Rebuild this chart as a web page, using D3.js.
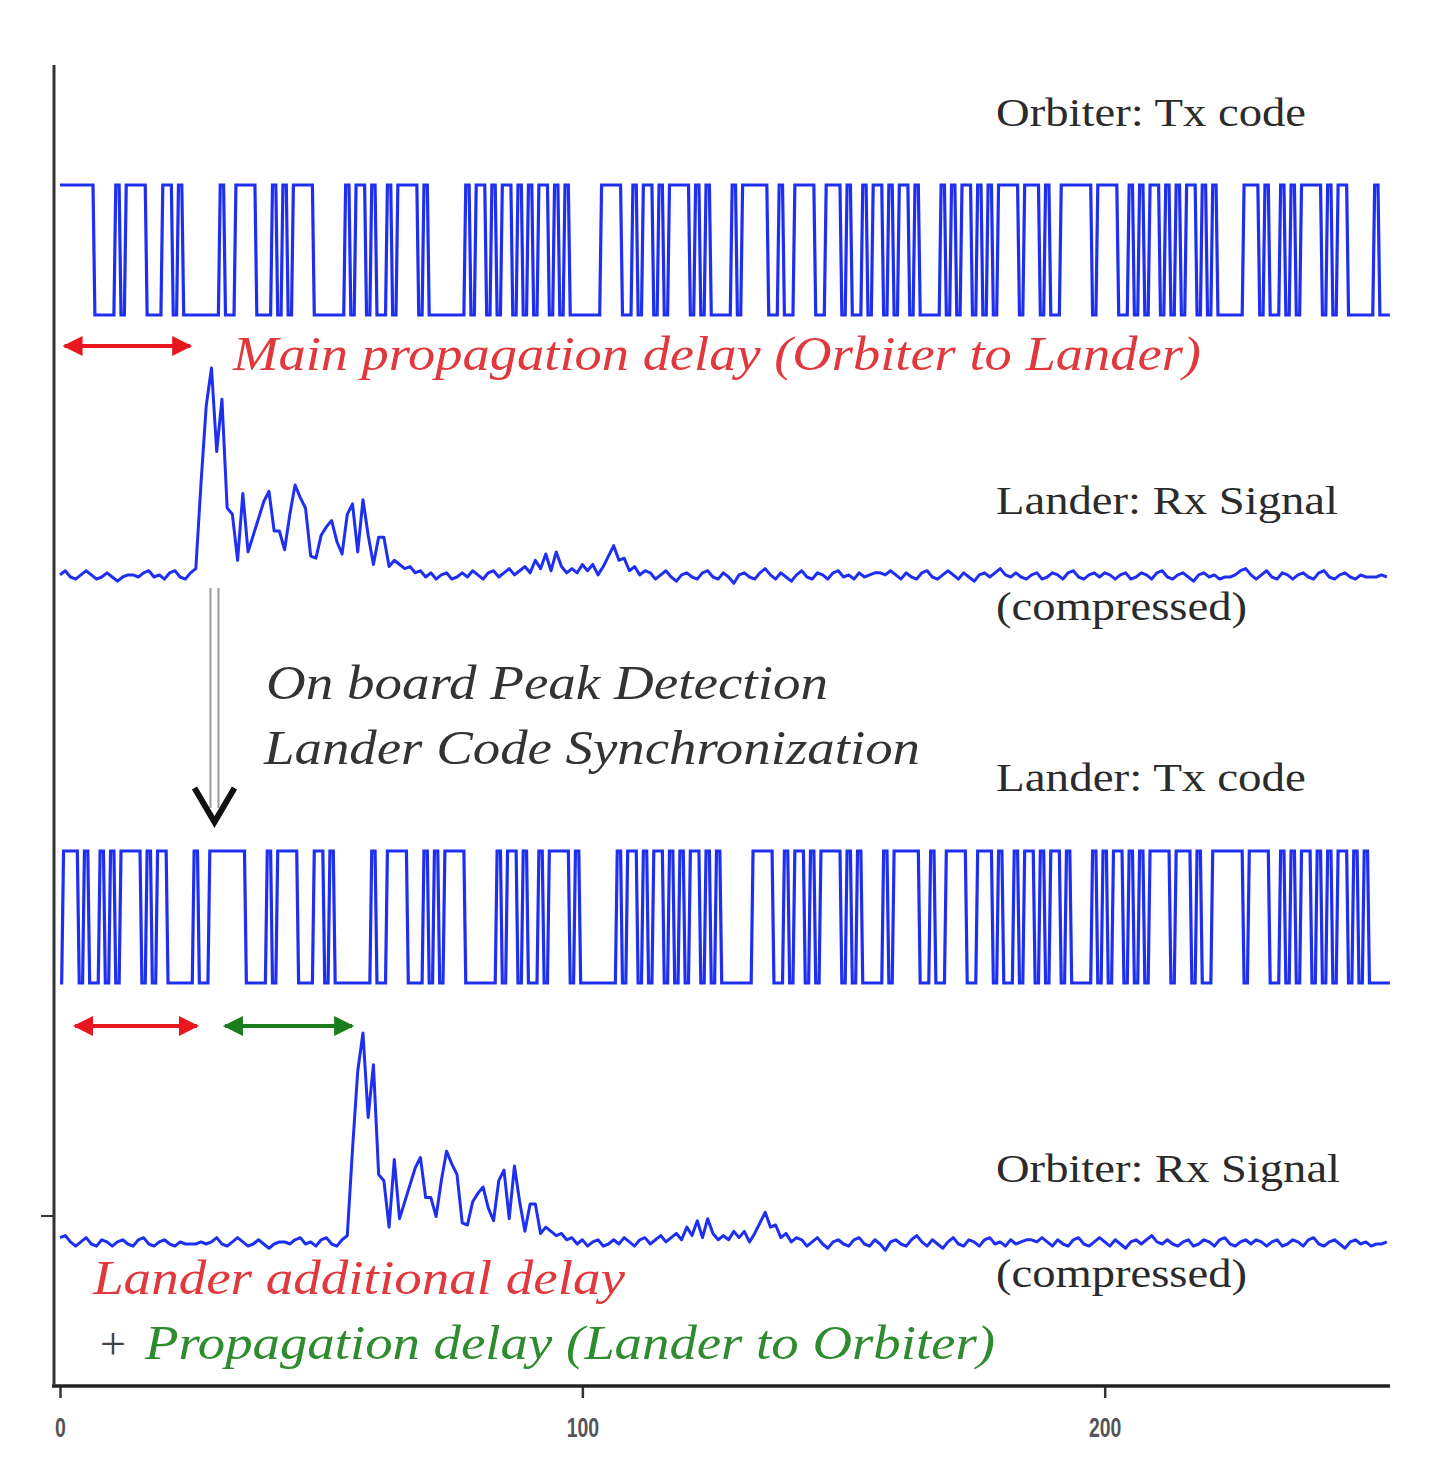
<!DOCTYPE html>
<html>
<head>
<meta charset="utf-8">
<script src="https://cdn.jsdelivr.net/npm/d3@7"></script>
<style>
  html, body { margin: 0; padding: 0; background: #fff; }
  svg { display: block; }
</style>
</head>
<body>
<div id="chart"></div>
<script>
(function() {

    // ---- data ----

    // orbiter transmit code, one chip per time unit (0..254)
    var orbiterTxBits = [
        1,1,1,1,1,1,1,0,0,0, 0,1,0,1,1,1,1,0,0,0, 1,1,0,1,0,0,0,0,0,0,
        0,1,0,0,1,1,1,1,0,0, 0,1,0,1,0,1,1,1,1,0, 0,0,0,0,0,1,0,1,1,0,
        1,0,0,1,0,1,1,1,1,0, 1,0,0,0,0,0,0,0,1,0, 1,1,0,1,0,1,1,0,1,0,
        1,0,1,1,0,1,0,1,0,0, 0,0,0,0,1,1,1,1,0,0, 1,0,1,1,0,1,0,1,1,1,
        1,0,1,0,1,0,0,0,0,1, 0,1,1,1,1,1,0,0,1,0, 0,1,1,1,1,0,0,1,1,1,
        0,1,0,0,1,0,1,1,0,1, 0,1,1,0,1,0,0,0,0,1, 0,1,0,1,1,0,1,0,1,0,
        1,1,1,1,0,1,1,1,0,1, 0,0,1,1,1,1,1,1,0,1, 1,1,1,0,0,1,0,1,0,1,
        1,0,1,0,1,0,1,1,0,1, 0,1,0,0,0,0,0,1,1,1, 0,1,0,0,1,0,1,0,1,1,
        1,1,0,1,0,1,1,0,0,0, 0,0,1,0,0
    ];

    // lander received (correlated) signal, relative to the peak
    var landerRxValues = [
        0.01,0.03,0.0,-0.01,0.01,0.03,0.01,-0.01,0.0,0.02,
        0.0,-0.02,0.0,0.01,0.01,0.0,0.02,0.03,0.0,0.01,
        -0.01,0.02,0.03,0.0,-0.01,0.02,0.04,0.45,0.82,1.0,
        0.6,0.85,0.33,0.3,0.08,0.4,0.12,0.2,0.28,0.36,
        0.41,0.22,0.22,0.13,0.3,0.44,0.38,0.33,0.1,0.09,
        0.2,0.24,0.27,0.17,0.11,0.3,0.35,0.12,0.37,0.2,
        0.06,0.19,0.19,0.05,0.08,0.06,0.04,0.05,0.02,0.03,
        0.0,0.02,-0.01,0.01,0.02,-0.01,0.0,0.02,0.0,0.03,
        0.01,-0.01,0.02,0.03,0.0,0.02,0.04,0.01,0.03,0.05,
        0.02,0.08,0.04,0.11,0.03,0.12,0.05,0.02,0.04,0.02,
        0.06,0.03,0.06,0.01,0.05,0.1,0.15,0.08,0.09,0.03,
        0.05,0.01,0.03,0.02,-0.01,0.01,0.03,0.0,-0.02,0.01,
        0.02,0.0,-0.01,0.02,0.03,0.0,-0.01,0.02,0.0,-0.03,
        0.01,0.02,0.0,-0.01,0.02,0.04,0.01,-0.01,0.02,0.0,
        -0.02,0.01,0.03,0.0,-0.01,0.02,0.01,-0.01,0.02,0.03,
        0.0,0.01,-0.01,0.02,0.0,0.01,0.02,0.02,0.01,0.03,
        0.01,-0.01,0.02,0.0,-0.01,0.02,0.03,0.0,-0.01,0.01,
        0.03,0.01,-0.01,0.02,0.0,-0.02,0.01,0.02,0.0,0.02,
        0.04,0.01,0.0,0.02,0.0,-0.01,0.01,0.02,-0.01,0.0,
        0.02,0.01,-0.01,0.02,0.03,0.0,-0.01,0.01,0.02,0.0,
        0.02,0.01,-0.01,0.01,0.02,-0.01,0.0,0.02,0.01,-0.01,
        0.02,0.03,0.0,-0.01,0.01,0.02,0.0,-0.02,0.01,0.02,
        0.0,0.01,-0.01,0.0,0.0,0.01,0.03,0.04,0.01,-0.01,
        0.01,0.03,0.0,-0.01,0.02,0.01,-0.01,0.01,0.02,0.0,
        -0.01,0.02,0.03,0.0,-0.01,0.01,0.02,0.0,-0.01,0.01,
        0.0,0.0,0.0,0.01,0.0
    ];

    // one-way delay (time units) between orbiter and lander
    var propagationDelay = 29;

    // annotation arrow spans (time units)
    var mainDelaySpan = [0.3, 25.5];
    var landerDelaySpan = [2.3, 26.8];
    var returnDelaySpan = [31.0, 56.5];

    var xTicks = [0, 100, 200];

    var trackLabels = ["Orbiter: Tx code", "Lander: Rx Signal", "(compressed)",
                       "Lander: Tx code", "Orbiter: Rx Signal", "(compressed)"];

    // the lander re-transmits the same code, synchronised on its peak
    var n = orbiterTxBits.length;
    var landerTxBits = orbiterTxBits.map(function(d, i) {
        return orbiterTxBits[(i - propagationDelay + n) % n];
    });
    // and the orbiter sees the same correlation, one more delay later
    var orbiterRxValues = landerRxValues.map(function(d, i) {
        return landerRxValues[(i - propagationDelay + n) % n];
    });

    // ---- drawing ----

    var width = 1431,
        height = 1478;

    var svg = d3.select("#chart")
        .append("svg")
        .attr("width", width)
        .attr("height", height);

    var defs = svg.append("defs");
    function arrowHead(id, color) {
        defs.append("marker")
            .attr("id", id)
            .attr("viewBox", "0 0 10 10")
            .attr("refX", 9)
            .attr("refY", 5)
            .attr("markerWidth", 5.5)
            .attr("markerHeight", 5)
            .attr("markerUnits", "strokeWidth")
            .attr("orient", "auto-start-reverse")
            .append("path")
            .attr("d", "M0,0 L10,5 L0,10 Z")
            .attr("fill", color);
    }
    arrowHead("head-red", "#e8161e");
    arrowHead("head-green", "#1b7d1b");

    var x = d3.scaleLinear()
        .domain([0, 255])
        .range([60, 1392]);

    // one vertical scale per track: [low level, high level]
    function track(low, high) {
        return d3.scaleLinear().domain([0, 1]).range([low, high]);
    }
    var yOrbTx = track(315, 185),
        yLanRx = track(577, 368),
        yLanTx = track(983, 851),
        yOrbRx = track(1244, 1033);

    var blue = "#1f2ff0";

    // code: each chip is flat around its centre, with short slanted edges
    function drawCode(bits, y) {
        var half = 0.32, tEnd = 254.6;
        var pts = [];
        bits.forEach(function(b, i) {
            pts.push([Math.max(0, i - half), b]);
            pts.push([Math.min(tEnd, i + half), b]);
        });
        pts.push([tEnd, bits[bits.length - 1]]);
        var line = d3.line()
            .x(function(d) { return x(d[0]); })
            .y(function(d) { return y(d[1]); });
        svg.append("path")
            .datum(pts)
            .attr("d", line)
            .attr("fill", "none")
            .attr("stroke", blue)
            .attr("stroke-width", 3.2)
            .attr("stroke-linejoin", "miter");
    }

    function drawSignal(values, y) {
        var line = d3.line()
            .x(function(d, i) { return x(i); })
            .y(function(d) { return y(d); });
        svg.append("path")
            .datum(values)
            .attr("d", line)
            .attr("fill", "none")
            .attr("stroke", blue)
            .attr("stroke-width", 3)
            .attr("stroke-linejoin", "round");
    }

    drawCode(orbiterTxBits, yOrbTx);
    drawSignal(landerRxValues, yLanRx);
    drawCode(landerTxBits, yLanTx);
    drawSignal(orbiterRxValues, yOrbRx);

    // axes
    var axisY = 1386;
    var xAxis = d3.axisBottom(x)
        .tickValues(xTicks)
        .tickSize(12)
        .tickSizeOuter(0)
        .tickPadding(20);

    var gx = svg.append("g")
        .attr("transform", "translate(0," + axisY + ")")
        .call(xAxis);
    gx.select(".domain").remove();
    gx.selectAll(".tick line")
        .attr("stroke", "#333")
        .attr("stroke-width", 2.5);
    gx.selectAll(".tick text")
        .attr("fill", "#555")
        .attr("font-family", "'Liberation Sans Narrow', 'Liberation Sans', sans-serif")
        .attr("font-weight", "bold")
        .attr("font-size", 27)
        .attr("transform", "scale(0.72,1)");

    svg.append("line")
        .attr("x1", 52).attr("x2", 1390)
        .attr("y1", axisY).attr("y2", axisY)
        .attr("stroke", "#222")
        .attr("stroke-width", 3.5);

    svg.append("line")
        .attr("x1", 54).attr("x2", 54)
        .attr("y1", 65).attr("y2", axisY)
        .attr("stroke", "#333")
        .attr("stroke-width", 3);
    svg.append("line")
        .attr("x1", 41).attr("x2", 54)
        .attr("y1", 1216).attr("y2", 1216)
        .attr("stroke", "#333")
        .attr("stroke-width", 2);

    // delay arrows
    function delayArrow(span, yPos, color, head) {
        svg.append("line")
            .attr("x1", x(span[0]) + 3).attr("x2", x(span[1]) - 3)
            .attr("y1", yPos).attr("y2", yPos)
            .attr("stroke", color)
            .attr("stroke-width", 4)
            .attr("marker-start", "url(#" + head + ")")
            .attr("marker-end", "url(#" + head + ")");
    }
    delayArrow(mainDelaySpan, 346, "#e8161e", "head-red");
    delayArrow(landerDelaySpan, 1026, "#e8161e", "head-red");
    delayArrow(returnDelaySpan, 1026, "#1b7d1b", "head-green");

    // peak detection arrow (double grey shaft, black chevron)
    var ax = x(propagationDelay) + 3;
    [-4, 4].forEach(function(dx) {
        svg.append("line")
            .attr("x1", ax + dx).attr("x2", ax + dx)
            .attr("y1", 588).attr("y2", 808)
            .attr("stroke", "#9a9a9a")
            .attr("stroke-width", 2);
    });
    svg.append("path")
        .attr("d", "M" + (ax - 20) + ",788 L" + ax + ",822 L" + (ax + 20) + ",788")
        .attr("fill", "none")
        .attr("stroke", "#111")
        .attr("stroke-width", 6)
        .attr("stroke-linejoin", "miter");

    // text
    function label(txt, px, py, len, opts) {
        opts = opts || {};
        var t = svg.append("text")
            .attr("x", px)
            .attr("y", py)
            .attr("font-family", "'Liberation Serif', 'Times New Roman', serif")
            .attr("font-size", opts.size || 40)
            .attr("font-style", opts.italic ? "italic" : "normal")
            .attr("fill", opts.color || "#2b2b2b")
            .text(txt);
        if (len) {
            t.attr("textLength", len).attr("lengthAdjust", "spacingAndGlyphs");
        }
        return t;
    }

    label(trackLabels[0], 996, 126, 310);
    label(trackLabels[1], 996, 514, 342);
    label(trackLabels[2], 996, 620, 251);
    label(trackLabels[3], 996, 791, 310);
    label(trackLabels[4], 996, 1182, 344);
    label(trackLabels[5], 996, 1287, 251);

    label("Main propagation delay (Orbiter to Lander)", 233, 370, 968,
          { italic: true, size: 48, color: "#e0383c" });
    label("On board Peak Detection", 266, 699, 562,
          { italic: true, size: 48, color: "#333" });
    label("Lander Code Synchronization", 264, 764, 656,
          { italic: true, size: 48, color: "#333" });
    label("Lander additional delay", 93, 1294, 532,
          { italic: true, size: 48, color: "#e0383c" });

    label("+ ", 100, 1359, null, { italic: false, size: 46, color: "#444" });
    label("Propagation delay (Lander to Orbiter)", 145, 1359, 850,
          { italic: true, size: 48, color: "#2e8b2e" });

})();
</script>
</body>
</html>
